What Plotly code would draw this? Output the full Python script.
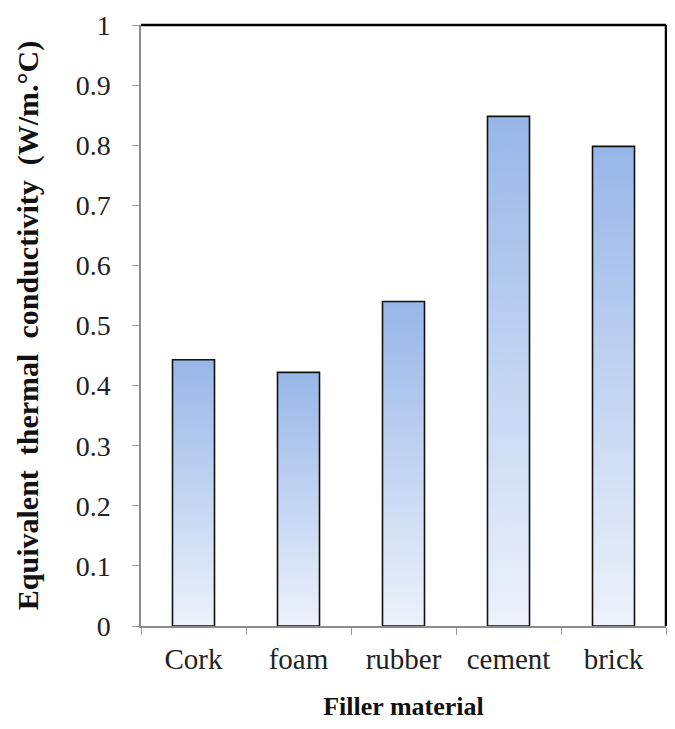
import plotly.graph_objects as go

categories = ["Cork", "foam", "rubber", "cement", "brick"]
values = [0.443, 0.422, 0.540, 0.848, 0.798]
y_ticks = [0, 0.1, 0.2, 0.3, 0.4, 0.5, 0.6, 0.7, 0.8, 0.9, 1]
y_tick_labels = ["0", "0.1", "0.2", "0.3", "0.4", "0.5", "0.6", "0.7", "0.8", "0.9", "1"]

FONT = "Liberation Serif"
half_w = 0.2

fig = go.Figure()
for i, (cat, v) in enumerate(zip(categories, values)):
    xs = [i - half_w, i - half_w, i + half_w, i + half_w, i - half_w]
    ys = [0, v, v, 0, 0]
    fig.add_trace(go.Scatter(
        x=xs, y=ys, mode="lines", fill="toself",
        fillgradient=dict(type="vertical",
                          colorscale=[[0, "#edf2fb"], [1, "#97b6e8"]]),
        line=dict(color="#111111", width=1.6),
        name=cat, showlegend=False, hoverinfo="skip",
    ))

# The page body has an 8px margin, so the figure is sized to fit the window
fig.update_layout(
    width=659, height=713,
    margin=dict(l=133, r=1, t=17, b=95),
    paper_bgcolor="white", plot_bgcolor="white",
    font=dict(family=FONT, color="#222222"),
    xaxis=dict(
        range=[-0.5, 4.5], automargin=False,
        tickmode="array", tickvals=list(range(len(categories))), ticktext=categories,
        ticks="", showgrid=False, zeroline=False,
        showline=True, linecolor="#8c8c8c", linewidth=1.5,
        tickfont=dict(family=FONT, size=29, color="#222222"),
        ticklabelstandoff=6,
        minor=dict(tickmode="linear", tick0=-0.5, dtick=1, ticks="outside",
                   ticklen=7, tickwidth=1, tickcolor="#9a9a9a", showgrid=False),
        title=dict(text="<b>Filler material</b>", font=dict(family=FONT, size=26, color="#111111"),
                   standoff=34),
    ),
    yaxis=dict(
        range=[0, 1], automargin=False,
        tickmode="array", tickvals=y_ticks, ticktext=y_tick_labels,
        ticks="outside", ticklen=7, tickwidth=1, tickcolor="#9a9a9a",
        showgrid=False, zeroline=False,
        showline=True, linecolor="#8c8c8c", linewidth=1.5,
        tickfont=dict(family=FONT, size=28, color="#222222"),
        ticklabelstandoff=16, ticklabeloverflow="allow",
        title=dict(text="<b>Equivalent  thermal  conductivity  (W/m.°C)</b>",
                   font=dict(family=FONT, size=30, color="#111111"), standoff=28),
    ),
    shapes=[
        dict(type="line", xref="paper", yref="paper", x0=0, x1=1, y0=1, y1=1,
             line=dict(color="#000000", width=2.5)),
        dict(type="line", xref="paper", yref="paper", x0=1, x1=1, y0=0, y1=1,
             line=dict(color="#000000", width=2.5)),
    ],
)

fig.write_html("out.html")
